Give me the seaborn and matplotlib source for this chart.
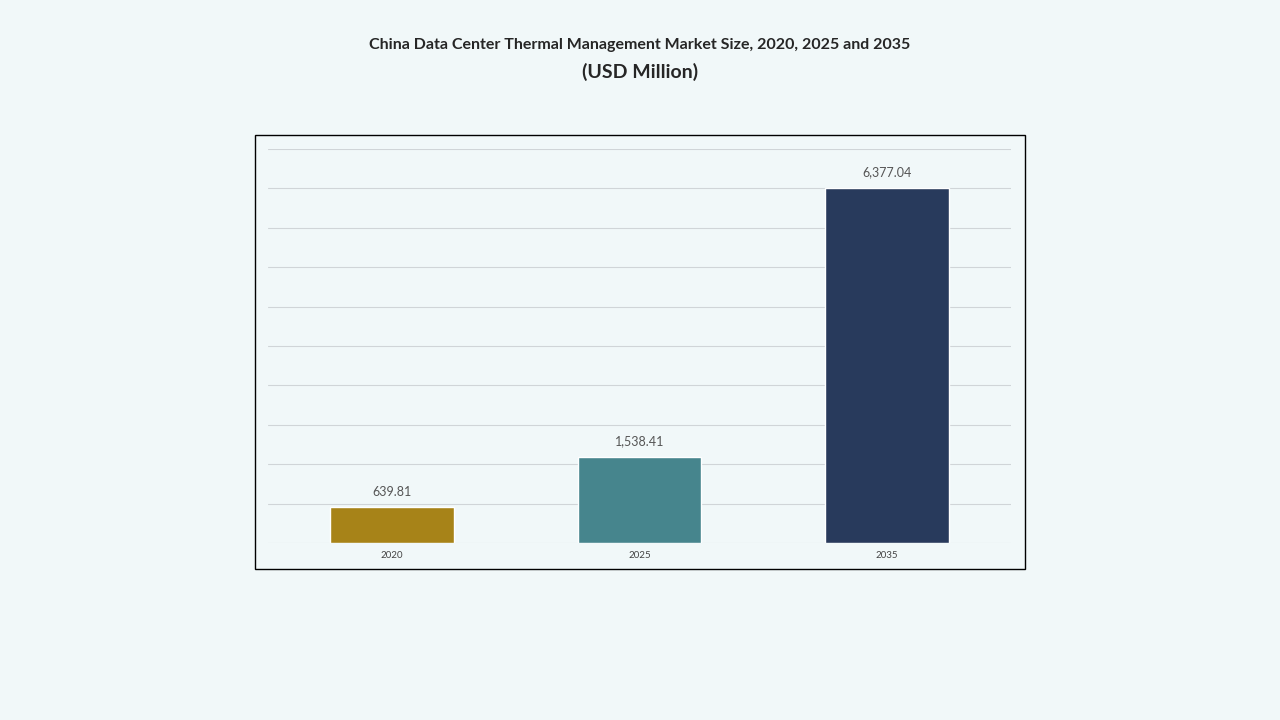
import matplotlib
matplotlib.use("Agg")
import matplotlib.pyplot as plt
import seaborn as sns
import numpy as np
from matplotlib.patches import Rectangle

years = ["2020", "2025", "2035"]
values = [639.81, 1538.41, 6377.04]
colors = ["#BF8F00", "#3A8E99", "#203864"]

sns.set_style("white")
plt.rcParams['font.family'] = ['Lato', 'DejaVu Sans']
bg = "#F1F8F9"
fig = plt.figure(figsize=(12.8, 7.2), dpi=100, facecolor=bg)
W, H = 1280, 720
ax = fig.add_axes([268/W, 1-543/H, (1011-268)/W, (543-149)/H])
ax.set_facecolor(bg)
sns.barplot(x=years, y=values, palette=colors, hue=years, legend=False, width=0.5, ax=ax)
step = values[2] / 9
ax.set_ylim(0, step * 10)
ax.set_yticks(np.arange(0, 11) * step)
ax.yaxis.grid(True, color="#D0D5D8", linewidth=0.8)
ax.set_axisbelow(True)
ax.tick_params(axis='y', left=False, labelleft=False)
ax.tick_params(axis='x', length=0, labelsize=7, colors="#444444", pad=6)
for s in ax.spines.values():
    s.set_visible(False)
ax.set_xlabel(""); ax.set_ylabel("")
for i, v in enumerate(values):
    ax.text(i, v + step*0.25, f"{v:,.2f}", ha="center", va="bottom", fontsize=9, color="#555555")
fig.patches.append(Rectangle((255/W, 1-569/H), (1025-255)/W, (569-135)/H, transform=fig.transFigure,
                             fill=False, edgecolor="black", linewidth=1))
fig.text(640/W, 1-45/H, "China Data Center Thermal Management Market Size, 2020, 2025 and 2035",
         ha="center", va="center", fontsize=11.5, fontweight="bold")
fig.text(640/W, 1-72/H, "(USD Million)", ha="center", va="center", fontsize=14, fontweight="bold")
fig.savefig("out.png", dpi=100, facecolor=bg)
